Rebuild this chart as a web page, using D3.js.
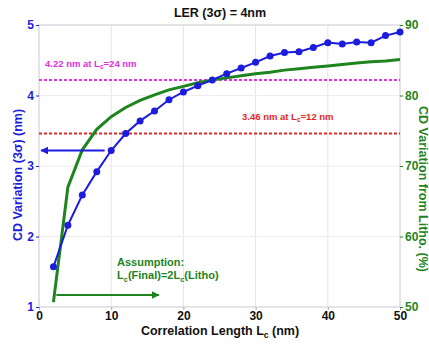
<!DOCTYPE html>
<html>
<head>
<meta charset="utf-8">
<script src="https://cdn.jsdelivr.net/npm/d3@7"></script>
<style>
  body { margin: 0; background: #fff; }
  text { font-family: "Liberation Sans", Arial, sans-serif; font-weight: bold; }
</style>
</head>
<body>
<svg id="chart" width="429" height="346"></svg>
<script>
// correlation length Lc (nm)
var lc = [2, 4, 6, 8, 10, 12, 14, 16, 18, 20, 22, 24, 26, 28, 30, 32, 34, 36, 38, 40, 42, 44, 46, 48, 50];
// CD variation 3 sigma (nm), left axis
var cdVar = [1.57, 2.16, 2.59, 2.92, 3.22, 3.46, 3.64, 3.78, 3.94, 4.05, 4.14, 4.22, 4.31, 4.39, 4.47,
             4.56, 4.61, 4.62, 4.68, 4.75, 4.73, 4.76, 4.75, 4.85, 4.90];
// CD variation from litho (%), right axis
var fromLitho = [50.7, 67.0, 72.3, 75.2, 77.0, 78.3, 79.3, 80.1, 80.8, 81.3, 81.8, 82.2, 82.5, 82.8, 83.1,
                 83.3, 83.6, 83.8, 84.0, 84.2, 84.4, 84.6, 84.8, 84.9, 85.1];
var xTicks = [0, 10, 20, 30, 40, 50];
var leftTicks = [1, 2, 3, 4, 5];
var rightTicks = [50, 60, 70, 80, 90];
// reference lines: value, Lc it is reached at
var refLines = [
  { value: 4.22, at: 24, color: '#e030e0' },
  { value: 3.46, at: 12, color: '#e02828' }
];

var blue = '#1c1cdc', green = '#1e841e';
var svg = d3.select('#chart');
var m = { left: 39, right: 29, top: 25, bottom: 39 },
    w = 429 - m.left - m.right,
    h = 346 - m.top - m.bottom;

var x = d3.scaleLinear().domain([0, 50]).range([m.left, m.left + w]);
var y = d3.scaleLinear().domain([1, 5]).range([m.top + h, m.top]);
var y2 = d3.scaleLinear().domain([50, 90]).range([m.top + h, m.top]);

var defs = svg.append('defs');
function arrowHead(id, color) {
  defs.append('marker').attr('id', id)
    .attr('viewBox', '0 0 10 10').attr('refX', 9).attr('refY', 5)
    .attr('markerWidth', 4).attr('markerHeight', 4).attr('orient', 'auto')
    .append('path').attr('d', 'M0,0L10,5L0,10z').attr('fill', color);
}
arrowHead('ab', blue);
arrowHead('ag', green);

// grid
var g = svg.append('g');
g.selectAll('.vg').data(xTicks.slice(1, -1)).enter().append('line')
  .attr('x1', x).attr('x2', x).attr('y1', m.top).attr('y2', m.top + h)
  .attr('stroke', '#e4e4ec').attr('stroke-width', 1);
g.selectAll('.hg').data(leftTicks.slice(1, -1)).enter().append('line')
  .attr('x1', m.left).attr('x2', m.left + w).attr('y1', y).attr('y2', y)
  .attr('stroke', '#ececf2').attr('stroke-width', 1);
g.append('rect').attr('x', m.left).attr('y', m.top).attr('width', w).attr('height', h)
  .attr('fill', 'none').attr('stroke', '#c8c8d4').attr('stroke-width', 1);

// axes
var xAxis = svg.append('g').attr('transform', 'translate(0,' + (m.top + h) + ')')
  .call(d3.axisBottom(x).tickValues(xTicks).tickFormat(d3.format('d')).tickSize(3).tickPadding(1));
var yAxis = svg.append('g').attr('transform', 'translate(' + m.left + ',0)')
  .call(d3.axisLeft(y).tickValues(leftTicks).tickFormat(d3.format('d')).tickSize(3).tickPadding(2));
var yAxis2 = svg.append('g').attr('transform', 'translate(' + (m.left + w) + ',0)')
  .call(d3.axisRight(y2).tickValues(rightTicks).tickFormat(d3.format('d')).tickSize(3).tickPadding(2));
[xAxis, yAxis, yAxis2].forEach(function(a) {
  a.select('.domain').remove();
  a.selectAll('text').attr('font-size', 12).style('font-weight', 'bold');
});
xAxis.selectAll('line').attr('stroke', '#aaa');
xAxis.selectAll('text').attr('fill', '#111');
yAxis.selectAll('line').attr('stroke', blue);
yAxis.selectAll('text').attr('fill', blue);
yAxis2.selectAll('line').attr('stroke', green);
yAxis2.selectAll('text').attr('fill', green);

// reference lines
svg.selectAll('.ref').data(refLines).enter().append('line')
  .attr('x1', m.left).attr('x2', m.left + w)
  .attr('y1', function(d) { return y(d.value); }).attr('y2', function(d) { return y(d.value); })
  .attr('stroke', function(d) { return d.color; }).attr('stroke-width', 2)
  .attr('stroke-dasharray', '3,2');

var labelPos = [[45, 67], [242, 120]];
refLines.forEach(function(d, i) {
  var t = svg.append('text').attr('x', labelPos[i][0]).attr('y', labelPos[i][1])
    .attr('fill', d.color).attr('font-size', 9.5);
  t.append('tspan').text(d.value.toFixed(2) + ' nm at L');
  t.append('tspan').attr('font-size', 6.5).attr('dy', 2).text('c');
  t.append('tspan').attr('dy', -2).text('=' + d.at + ' nm');
});

// green curve (right axis)
svg.append('path').datum(lc)
  .attr('fill', 'none').attr('stroke', green).attr('stroke-width', 3)
  .attr('d', d3.line().x(function(d) { return x(d); })
    .y(function(d, i) { return y2(fromLitho[i]); }));

// blue curve with markers (left axis)
svg.append('path').datum(lc)
  .attr('fill', 'none').attr('stroke', blue).attr('stroke-width', 2)
  .attr('d', d3.line().x(function(d) { return x(d); })
    .y(function(d, i) { return y(cdVar[i]); }));
svg.selectAll('.pt').data(lc).enter().append('circle')
  .attr('cx', function(d) { return x(d); })
  .attr('cy', function(d, i) { return y(cdVar[i]); })
  .attr('r', 3.5).attr('fill', blue);

// arrows pointing to the axes
svg.append('line').attr('x1', x(9.1)).attr('x2', x(0.3)).attr('y1', y(3.22)).attr('y2', y(3.22))
  .attr('stroke', blue).attr('stroke-width', 2).attr('marker-end', 'url(#ab)');
svg.append('line').attr('x1', x(2.4)).attr('x2', x(16.6)).attr('y1', y(1.17)).attr('y2', y(1.17))
  .attr('stroke', green).attr('stroke-width', 2).attr('marker-end', 'url(#ag)');

// assumption note
svg.append('text').attr('x', 117).attr('y', 266).attr('fill', green).attr('font-size', 11)
  .text('Assumption:');
var note = svg.append('text').attr('x', 117).attr('y', 279).attr('fill', green).attr('font-size', 11);
note.append('tspan').text('L');
note.append('tspan').attr('font-size', 7.5).attr('dy', 3).text('c');
note.append('tspan').attr('dy', -3).text('(Final)=2L');
note.append('tspan').attr('font-size', 7.5).attr('dy', 3).text('c');
note.append('tspan').attr('dy', -3).text('(Litho)');

// title and axis labels
svg.append('text').attr('x', 220).attr('y', 17).attr('text-anchor', 'middle')
  .attr('font-size', 12.5).attr('fill', '#111').text('LER (3σ) = 4nm');

var xl = svg.append('text').attr('x', 220).attr('y', 335).attr('text-anchor', 'middle')
  .attr('font-size', 12.5).attr('fill', '#111');
xl.append('tspan').text('Correlation Length L');
xl.append('tspan').attr('font-size', 8.5).attr('dy', 3).text('c');
xl.append('tspan').attr('dy', -3).text(' (nm)');

svg.append('text').attr('transform', 'translate(22,175) rotate(-90)')
  .attr('text-anchor', 'middle').attr('font-size', 12.5).attr('fill', blue)
  .text('CD Variation (3σ) (nm)');
svg.append('text').attr('transform', 'translate(419,189) rotate(90)')
  .attr('text-anchor', 'middle').attr('font-size', 12.5).attr('fill', green)
  .text('CD Variation from Litho. (%)');
</script>
</body>
</html>
